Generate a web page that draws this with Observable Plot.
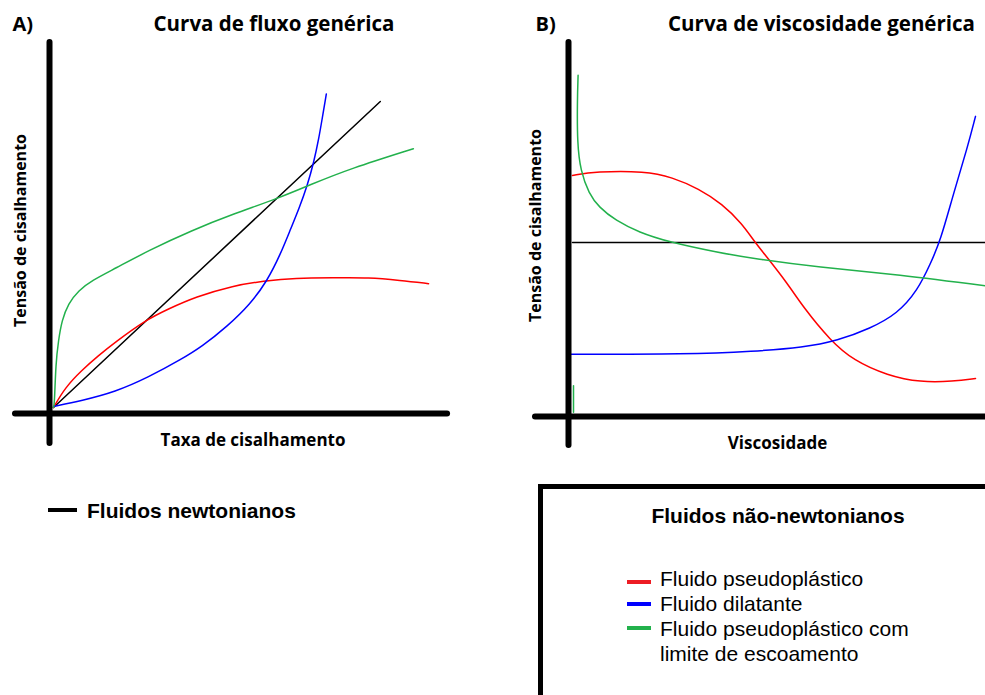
<!DOCTYPE html>
<html>
<head>
<meta charset="utf-8">
<script src="https://cdn.jsdelivr.net/npm/d3@7"></script>
<script src="https://cdn.jsdelivr.net/npm/@observablehq/plot@0.6"></script>
<style>
  html, body { margin: 0; padding: 0; background: #fff; overflow: hidden; }
  #wrap { position: relative; width: 985px; height: 695px; overflow: hidden; background: #fff; }
  .abs { position: absolute; }
  .leg { font-family: "Liberation Sans", Arial, sans-serif; color: #000; white-space: nowrap; }
</style>
</head>
<body>
<div id="wrap"></div>
<script>
// ---------- Series keys / colours ----------
const seriesKeys   = ["newtonian", "pseudo", "dilatant", "yield"];
const seriesColors = ["#000000", "#ff0000", "#0000ff", "#22b14c"];

// ---------- Panel A: Curva de fluxo genérica ----------
const aNewtonianX = [0, 86];
const aNewtonianY = [0, 85];
const aPseudoX = [0, 3.1, 7.4, 11.8, 16.2, 24.1, 30.3, 37.3, 47.4, 55.3, 63.2, 75.5, 82.6, 91.3, 98.7];
const aPseudoY = [0, 5.6, 10.3, 14.4, 18.1, 24.2, 27.4, 30.7, 33.9, 35.1, 36, 36, 36.1, 35.3, 34.4];
const aDilatantX = [0, 7.4, 16.2, 25, 33.8, 39, 45.7, 51.8, 56.2, 59.7, 62.4, 64.6, 66.8, 68.5, 69.8, 70.7, 71.8];
const aDilatantY = [0.3, 1.9, 4.3, 8.4, 13.5, 16.9, 22.5, 28.75, 35.1, 42.5, 49.6, 55.2, 61.7, 68.1, 74.6, 80.2, 87.1];
const aYieldX = [0, 0.26, 0.6, 1.3, 2.2, 3.9, 6.6, 10.1, 16.2, 25, 36.4, 47.4, 58.9, 67.6, 78.2, 94.7];
const aYieldY = [0, 1.1, 12.2, 18.6, 24.2, 28.9, 32.5, 35.3, 38.6, 43.6, 49.2, 53.8, 58, 61.9, 66.4, 71.9];

// ---------- Panel B: Curva de viscosidade genérica ----------
const bNewtonianX = [0, 103.5];
const bNewtonianY = [46.7, 46.7];
const bPseudoX = [0, 5.75, 18.25, 24.9, 31.6, 37.4, 42.4, 45.3, 48.25, 53.75, 57.75, 64.5, 70.25, 78.75, 87, 95.25, 100.75];
const bPseudoY = [65.3, 66.4, 66.5, 64.8, 61.6, 57.4, 51.9, 47.2, 43.1, 35.3, 28.6, 19.4, 13.9, 9.7, 7.8, 8.1, 8.9];
const bDilatantX = [-1, 28.75, 45.25, 57.75, 66.25, 74.5, 81.25, 86.25, 89.5, 92, 95.25, 98.75, 100.75];
const bDilatantY = [15.6, 15.6, 16.4, 17.5, 19.4, 22.8, 26.9, 33.3, 40.8, 47.2, 60.3, 73.1, 81.7];
const bYieldX = [1.4, 1.2, 1.2, 2, 4.1, 6.6, 10.75, 16.6, 24.1, 35.75, 45.75, 62, 78.75, 103.5];
const bYieldY = [93.1, 86.1, 74.1, 66.7, 60.2, 56.5, 52.8, 49.5, 46.8, 44, 42.1, 39.7, 38.1, 34.6];
const bYieldStubX = [0.25, 0.25];
const bYieldStubY = [6.9, -0.5];

// ---------- Text ----------
const panelTags   = ["A)", "B)"];
const panelTitles = ["Curva de fluxo genérica", "Curva de viscosidade genérica"];
const yLabels     = ["Tensão de cisalhamento", "Tensão de cisalhamento"];
const xLabels     = ["Taxa de cisalhamento", "Viscosidade"];
const newtonianLegend = "Fluidos newtonianos";
const nonNewtonianTitle = "Fluidos não-newtonianos";
const nonNewtonianLabels = ["Fluido pseudoplástico", "Fluido dilatante", "Fluido pseudoplástico com<br>limite de escoamento"];
const nonNewtonianColors = ["#ed1c24", "#0000ff", "#22b14c"];

function rows(xs, ys, s, z) {
  return xs.map((x, i) => ({x, y: ys[i], s, z: z || s}));
}

const dataA = [
  ...rows(aNewtonianX, aNewtonianY, "newtonian"),
  ...rows(aPseudoX, aPseudoY, "pseudo"),
  ...rows(aDilatantX, aDilatantY, "dilatant"),
  ...rows(aYieldX, aYieldY, "yield")
];
const dataB = [
  ...rows(bNewtonianX, bNewtonianY, "newtonian"),
  ...rows(bPseudoX, bPseudoY, "pseudo"),
  ...rows(bDilatantX, bDilatantY, "dilatant"),
  ...rows(bYieldX, bYieldY, "yield"),
  ...rows(bYieldStubX, bYieldStubY, "yield", "yieldStub")
];

const titleFont = "'Open Sans', 'DejaVu Sans', sans-serif";

function panel(cfg) {
  return Plot.plot({
    width: cfg.width, height: 470,
    marginLeft: cfg.ml, marginRight: cfg.mr, marginTop: cfg.mt, marginBottom: cfg.mb,
    style: {background: "transparent", fontFamily: titleFont, overflow: "visible"},
    x: {domain: [0, 100], axis: null},
    y: {domain: [0, 100], axis: null},
    color: {domain: seriesKeys, range: seriesColors},
    marks: [
      Plot.line(cfg.data, {x: "x", y: "y", z: "z", stroke: "s", strokeWidth: 1.5, curve: "basis"}),
      Plot.ruleX([cfg.axX], {y1: cfg.axY1, y2: cfg.axY2, stroke: "#000", strokeWidth: 6, strokeLinecap: "round"}),
      Plot.ruleY([cfg.axY], {x1: cfg.axX1, x2: cfg.axX2, stroke: "#000", strokeWidth: 6, strokeLinecap: "round"}),
      Plot.text([cfg.tag], {frameAnchor: "top-left", dx: cfg.tagDx, dy: cfg.tagDy, textAnchor: "start", lineAnchor: "bottom", fontSize: 20, fontWeight: "bold", fill: "#000"}),
      Plot.text([cfg.title], {frameAnchor: "top", dx: cfg.titleDx, dy: cfg.tagDy, textAnchor: "middle", lineAnchor: "bottom", fontSize: 20.5, fontWeight: "bold", fill: "#000"}),
      Plot.text([cfg.ylabel], {frameAnchor: "left", rotate: -90, dx: cfg.ylDx, dy: cfg.ylDy, textAnchor: "middle", lineAnchor: "middle", fontSize: 16, fontWeight: "bold", fill: "#000"}),
      Plot.text([cfg.xlabel], {frameAnchor: "bottom", dx: cfg.xlDx, dy: 33, textAnchor: "middle", lineAnchor: "middle", fontSize: 17, fontWeight: "bold", fill: "#000"})
    ]
  });
}

const wrap = document.getElementById("wrap");

const plotA = panel({
  width: 490, ml: 53, mr: 57, mt: 47, mb: 63, data: dataA,
  axX: -1.05, axY1: -10, axY2: 101.4, axY: -1.67, axX1: -10, axX2: 103.7,
  tag: panelTags[0], title: panelTitles[0], ylabel: yLabels[0], xlabel: xLabels[0],
  tagDx: -41, tagDy: -17, titleDx: 30.5, ylDx: -33, ylDy: 3, xlDx: 9.5
});
plotA.style.position = "absolute"; plotA.style.left = "0px"; plotA.style.top = "0px";
wrap.appendChild(plotA);

const plotB = panel({
  width: 465, ml: 52, mr: 13, mt: 50, mb: 60, data: dataB,
  axX: -1, axY1: -9.7, axY2: 102.2, axY: -1.67, axX1: -9.25, axX2: 115,
  tag: panelTags[1], title: panelTitles[1], ylabel: yLabels[1], xlabel: xLabels[1],
  tagDx: -37, tagDy: -20, titleDx: 49, ylDx: -37, ylDy: -5, xlDx: 5
});
plotB.style.position = "absolute"; plotB.style.left = "520px"; plotB.style.top = "0px";
wrap.appendChild(plotB);

// ---------- Legends ----------
function el(style, html, cls) {
  const d = document.createElement("div");
  d.className = "abs " + (cls || "");
  Object.assign(d.style, style);
  if (html != null) d.innerHTML = html;
  wrap.appendChild(d);
  return d;
}

// Newtonian legend (left)
el({left: "48px", top: "508px", width: "29px", height: "4px", background: "#000"});
el({left: "87px", top: "500px", fontSize: "21px", lineHeight: "21px", fontWeight: "bold"}, newtonianLegend, "leg");

// Non-newtonian legend box (right)
el({left: "538px", top: "484px", width: "470px", height: "240px", border: "5px solid #000", boxSizing: "border-box", background: "#fff"});
el({left: "578px", top: "505px", width: "400px", textAlign: "center", fontSize: "21px", lineHeight: "21px", fontWeight: "bold"}, nonNewtonianTitle, "leg");
const swatchTops = [580, 602, 626];
nonNewtonianColors.forEach((c, i) => {
  el({left: "627px", top: swatchTops[i] + "px", width: "24px", height: "4px", background: c});
});
el({left: "660px", top: "566px", fontSize: "21px", lineHeight: "25px"}, nonNewtonianLabels.join("<br>"), "leg");
</script>
</body>
</html>
